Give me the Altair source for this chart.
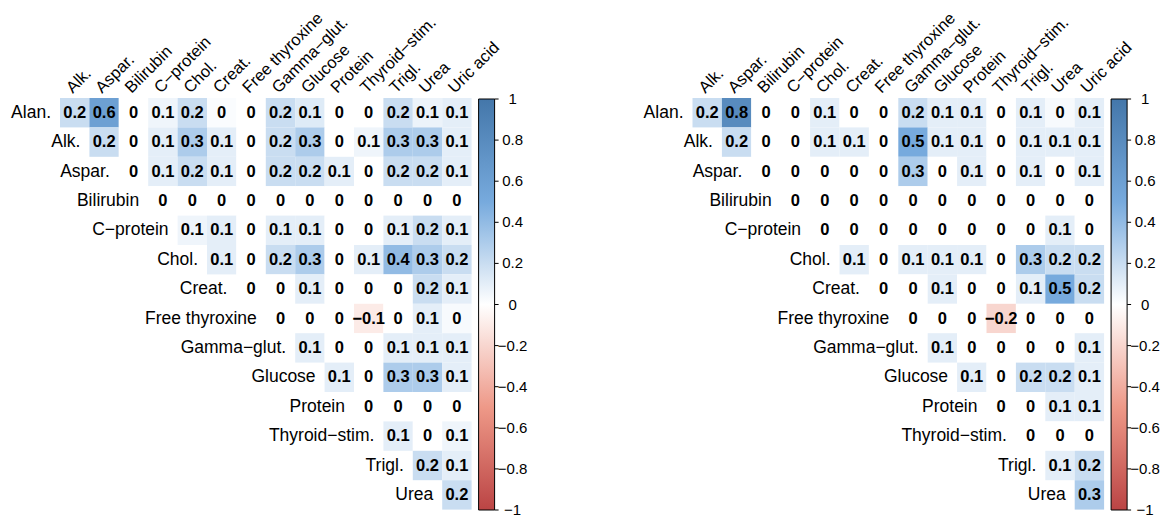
import altair as alt
import pandas as pd

# ---------------- data ----------------
names = ["Alan.", "Alk.", "Aspar.", "Bilirubin", "C−protein", "Chol.", "Creat.",
         "Free thyroxine", "Gamma−glut.", "Glucose", "Protein", "Thyroid−stim.",
         "Trigl.", "Urea", "Uric acid"]

# upper triangle, row i holds correlations with variables i+1 .. 14
left_rows = [
    [0.2, 0.6, 0, 0.06, 0.2, 0.02, 0, 0.2, 0.12, 0, 0, 0.2, 0.07, 0.1],
    [0.2, 0, 0.1, 0.3, 0.1, 0, 0.2, 0.3, 0, 0.06, 0.3, 0.3, 0.1],
    [0, 0.1, 0.2, 0.1, 0, 0.2, 0.2, 0.1, 0, 0.2, 0.2, 0.1],
    [0, 0, 0, 0, 0, 0, 0, 0, 0, 0, 0],
    [0.06, 0.1, 0, 0.1, 0.1, 0, 0, 0.1, 0.2, 0.1],
    [0.1, 0, 0.2, 0.3, 0, 0.1, 0.4, 0.3, 0.2],
    [0, 0, 0.1, 0, 0, 0, 0.2, 0.1],
    [0, 0, 0, -0.1, 0, 0.1, 0.03],
    [0.1, 0, 0, 0.1, 0.1, 0.1],
    [0.1, 0, 0.3, 0.3, 0.1],
    [0, 0, 0, 0],
    [0.1, 0, 0.06],
    [0.2, 0.1],
    [0.2],
]

right_rows = [
    [0.2, 0.8, 0, 0, 0.1, 0, 0, 0.2, 0.1, 0.1, 0, 0.1, 0.03, 0.1],
    [0.2, 0, 0, 0.1, 0.1, 0, 0.5, 0.1, 0.1, 0, 0.1, 0.1, 0.1],
    [0, 0, 0, 0, 0, 0.3, 0, 0.1, 0, 0.1, 0, 0.1],
    [0, 0, 0, 0, 0, 0, 0, 0, 0, 0, 0],
    [0, 0, 0, 0, 0, 0, 0, 0, 0.1, 0],
    [0.1, 0, 0.1, 0.1, 0.1, 0, 0.3, 0.2, 0.2],
    [0, 0, 0.1, 0, 0, 0.1, 0.5, 0.2],
    [0, 0, 0, -0.2, 0, 0, 0],
    [0.1, 0, 0, 0, 0, 0.1],
    [0.1, 0, 0.2, 0.2, 0.1],
    [0, 0, 0.1, 0.1],
    [0, 0, 0],
    [0.1, 0.2],
    [0.3],
]

legend_ticks = [1, 0.8, 0.6, 0.4, 0.2, 0, -0.2, -0.4, -0.6, -0.8, -1]
color_domain = [-1, -0.5, 0, 0.5, 1]
color_range = ["#BB4444", "#EE9988", "#FFFFFF", "#77AADD", "#4477AA"]

FONT = "Liberation Sans"


def label(v):
    r = round(v, 1)
    if r == 0:
        return "0"
    return ("−" if r < 0 else "") + f"{abs(r):g}"


def cells_table(rows):
    recs = []
    for i, vals in enumerate(rows):
        for k, v in enumerate(vals):
            recs.append({"i": i, "j": i + k, "v": v, "lab": label(v)})
    return pd.DataFrame(recs)


row_labels = pd.DataFrame({"i": list(range(14)), "name": names[:14]})
col_labels = pd.DataFrame({"j": list(range(14)), "name": names[1:]})
legend_df = pd.DataFrame({"v": legend_ticks, "lab": [label(v) for v in legend_ticks]})

# ---------------- layout (pixels) ----------------
W, H = 1155, 510          # plot area, starts at page (8, 8)
CELL = 29.4               # cell size in px
GRID_LEFT = 52            # left grid start, relative to plot origin
GRID_TOP = 90
RIGHT_SHIFT = 632.5       # right grid start minus left grid start
BAR_GAP = 7               # grid right edge -> colour bar
BAR_W = 16
BAR_TOP = 1               # colour bar top relative to grid top
BAR_LEN = 411

xs = alt.Scale(domain=[-GRID_LEFT / CELL, (W - GRID_LEFT) / CELL], nice=False, zero=False)
ys = alt.Scale(domain=[-GRID_TOP / CELL, (H - GRID_TOP) / CELL], nice=False, zero=False, reverse=True)
X = lambda f: alt.X(f, scale=xs, axis=None)
Y = lambda f: alt.Y(f, scale=ys, axis=None)


def panel(rows, shift_px):
    off = shift_px / CELL
    cells = cells_table(rows)
    base = alt.Chart(cells).transform_calculate(
        x0=f"datum.j + {off}", x1=f"datum.j + 1 + {off}",
        y0="datum.i", y1="datum.i + 1",
        xc=f"datum.j + 0.5 + {off}", yc="datum.i + 0.5")

    bar_left_px = GRID_LEFT + shift_px + 14 * CELL + BAR_GAP
    rect = base.mark_rect(strokeWidth=0).encode(
        x=X("x0:Q"), x2="x1:Q", y=Y("y0:Q"), y2="y1:Q",
        color=alt.Color(
            "v:Q",
            scale=alt.Scale(domain=color_domain, range=color_range, interpolate="rgb"),
            legend=alt.Legend(
                orient="none", legendX=bar_left_px, legendY=GRID_TOP + BAR_TOP,
                direction="vertical", title=None, gradientLength=BAR_LEN,
                gradientThickness=BAR_W, gradientStrokeColor="black",
                gradientStrokeWidth=1, values=legend_ticks, labelOpacity=0,
                labelFontSize=1, padding=0),
        ),
    )

    txt = base.mark_text(font=FONT, fontSize=16.5, fontWeight="bold", color="black",
                         baseline="middle", align="center").encode(
        x=X("xc:Q"), y=Y("yc:Q"), text="lab:N")

    rlab = alt.Chart(row_labels).transform_calculate(
        xr=f"datum.i + {off}", yr="datum.i + 0.5").mark_text(
        font=FONT, fontSize=17.5, color="black", align="right", baseline="middle", dx=-9).encode(
        x=X("xr:Q"), y=Y("yr:Q"), text="name:N")

    clab = alt.Chart(col_labels).transform_calculate(
        xl=f"datum.j + 0.43 + {off}", yl="-0.14").mark_text(
        font=FONT, fontSize=16.5, color="black", align="left", baseline="alphabetic",
        angle=315).encode(
        x=X("xl:Q"), y=Y("yl:Q"), text="name:N")

    # colour-bar ticks and labels, placed along the bar by value
    bar_right = (bar_left_px + BAR_W - GRID_LEFT) / CELL
    yv = f"({BAR_TOP} + (1 - datum.v) / 2 * {BAR_LEN}) / {CELL}"
    lb = alt.Chart(legend_df).transform_calculate(
        yt=yv, xt0=f"{bar_right}", xt1=f"{bar_right} + 4 / {CELL}",
        xlab=f"{bar_right} + 18 / {CELL}")
    ticks = lb.mark_rule(color="black", strokeWidth=1).encode(
        x=X("xt0:Q"), x2="xt1:Q", y=Y("yt:Q"))
    blabs = lb.mark_text(font=FONT, fontSize=15, color="black", align="center",
                         baseline="middle").encode(
        x=X("xlab:Q"), y=Y("yt:Q"), text="lab:N")

    return [rect, txt, rlab, clab, ticks, blabs]


layers = panel(left_rows, 0) + panel(right_rows, RIGHT_SHIFT)

chart = alt.layer(*layers).resolve_scale(color="independent").properties(
    width=W, height=H, padding=0, background="white",
    autosize=alt.AutoSizeParams(type="none"),
).configure_view(strokeWidth=0)

chart.save("out.html", embed_options={"renderer": "svg", "actions": False})
